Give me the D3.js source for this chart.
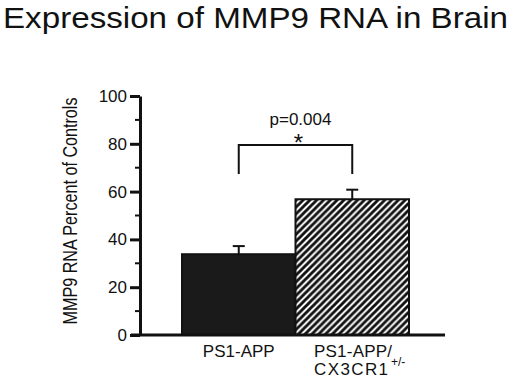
<!DOCTYPE html>
<html>
<head>
<meta charset="utf-8">
<script src="https://cdn.jsdelivr.net/npm/d3@7"></script>
<style>
  body { margin: 0; background: #fff; }
  svg text { font-family: "Liberation Sans", Arial, sans-serif; fill: #111; }
</style>
</head>
<body>
<div id="chart"></div>
<script>
const categories = ["PS1-APP", "PS1-APP/CX3CR1+/-"];
const means = [33.8, 56.8];
const errors = [3.4, 4.0];
const yTicks = [0, 20, 40, 60, 80, 100];
const minorTicks = [10, 30, 50, 70, 90];
const pText = "p=0.004";

const width = 510, height = 378;

const svg = d3.select("#chart").append("svg")
  .attr("width", width)
  .attr("height", height);

// diagonal hatch
const defs = svg.append("defs");
const p = 6.8;
const pat = defs.append("pattern")
  .attr("id", "hatch")
  .attr("patternUnits", "userSpaceOnUse")
  .attr("width", p)
  .attr("height", p);
pat.append("rect").attr("width", p).attr("height", p).attr("fill", "#fff");
pat.append("path")
  .attr("d", `M${-p/4},${p/4} L${p/4},${-p/4} M0,${p} L${p},0 M${p*3/4},${p*5/4} L${p*5/4},${p*3/4}`)
  .attr("stroke", "#111")
  .attr("stroke-width", 2.9);

const x = d3.scaleBand()
  .domain(categories)
  .range([182, 409])
  .padding(0);

const y = d3.scaleLinear()
  .domain([0, 100])
  .range([335, 96]);

// title
svg.append("text")
  .attr("x", 3)
  .attr("y", 28)
  .style("font-size", "30px")
  .attr("textLength", 505)
  .attr("lengthAdjust", "spacingAndGlyphs")
  .text("Expression of MMP9 RNA in Brain");

// bars
svg.append("g")
  .selectAll("rect")
  .data(categories)
  .enter()
  .append("rect")
  .attr("x", d => x(d))
  .attr("y", (d, i) => y(means[i]))
  .attr("width", x.bandwidth())
  .attr("height", (d, i) => y(0) - y(means[i]))
  .attr("fill", (d, i) => i === 0 ? "#1a1a1a" : "url(#hatch)")
  .attr("stroke", "#111")
  .attr("stroke-width", 2);

// error bars
const eb = svg.append("g").attr("stroke", "#111").attr("stroke-width", 2);
categories.forEach((c, i) => {
  const cx = x(c) + x.bandwidth() / 2;
  eb.append("line")
    .attr("x1", cx).attr("x2", cx)
    .attr("y1", y(means[i])).attr("y2", y(means[i] + errors[i]));
  eb.append("line")
    .attr("x1", cx - 6).attr("x2", cx + 6)
    .attr("y1", y(means[i] + errors[i])).attr("y2", y(means[i] + errors[i]));
});

// y axis
const yAxis = svg.append("g")
  .attr("transform", "translate(140,0)")
  .call(d3.axisLeft(y).tickValues(yTicks).tickSize(10).tickSizeOuter(0).tickPadding(3));
yAxis.select(".domain").attr("stroke", "#111").attr("stroke-width", 3);
yAxis.selectAll(".tick line").attr("stroke", "#111").attr("stroke-width", 3);
yAxis.selectAll(".tick text")
  .style("font-size", "17px")
  .attr("fill", "#111")
  .style("font-family", "'Liberation Sans', Arial, sans-serif");

svg.append("g")
  .selectAll("line")
  .data(minorTicks)
  .enter()
  .append("line")
  .attr("x1", 135).attr("x2", 140)
  .attr("y1", d => y(d)).attr("y2", d => y(d))
  .attr("stroke", "#111")
  .attr("stroke-width", 2);

// x baseline
svg.append("line")
  .attr("x1", 131).attr("x2", 445)
  .attr("y1", y(0)).attr("y2", y(0))
  .attr("stroke", "#111")
  .attr("stroke-width", 3);

// y label
svg.append("text")
  .attr("transform", "translate(77,211) rotate(-90)")
  .attr("text-anchor", "middle")
  .style("font-size", "20px")
  .attr("textLength", 227)
  .attr("lengthAdjust", "spacingAndGlyphs")
  .text("MMP9 RNA Percent of Controls");

// category labels
svg.append("text")
  .attr("x", x(categories[0]) + x.bandwidth() / 2)
  .attr("y", 357)
  .attr("text-anchor", "middle")
  .style("font-size", "17px")
  .text(categories[0]);

const lab2 = svg.append("g").style("font-size", "17px");
lab2.append("text").attr("x", 314).attr("y", 357).attr("textLength", 78).text("PS1-APP/");
lab2.append("text").attr("x", 314).attr("y", 375).attr("textLength", 74).text("CX3CR1");
lab2.append("text").attr("x", 391).attr("y", 366).style("font-size", "12px").text("+/-");

// significance bracket
const c0 = x(categories[0]) + x.bandwidth() / 2;
const c1 = x(categories[1]) + x.bandwidth() / 2;
svg.append("path")
  .attr("d", `M${c0},174 V145 H${c1} V174`)
  .attr("fill", "none")
  .attr("stroke", "#111")
  .attr("stroke-width", 2);

svg.append("text")
  .attr("x", (c0 + c1) / 2 + 5)
  .attr("y", 125)
  .attr("text-anchor", "middle")
  .style("font-size", "17px")
  .text(pText);

svg.append("text")
  .attr("x", (c0 + c1) / 2 + 3)
  .attr("y", 151)
  .attr("text-anchor", "middle")
  .style("font-size", "24px")
  .text("*");
</script>
</body>
</html>
